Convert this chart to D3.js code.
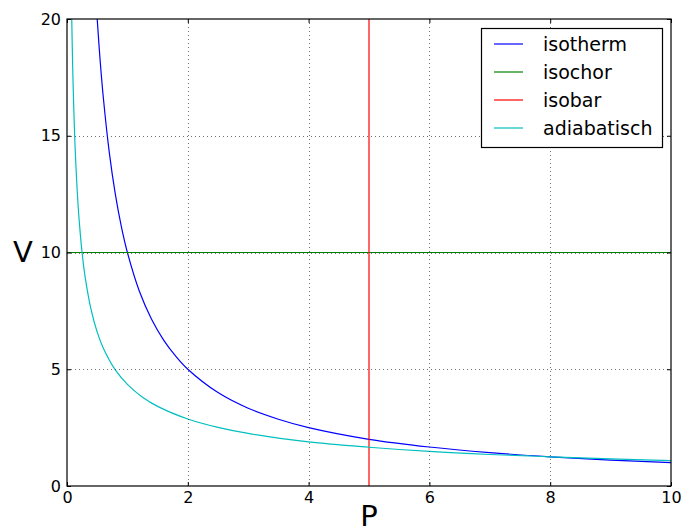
<!DOCTYPE html>
<html>
<head>
<meta charset="utf-8">
<script src="https://cdn.jsdelivr.net/npm/d3@7"></script>
<style>
body { margin: 0; background: #fff; }
text { font-family: "DejaVu Sans", sans-serif; }
</style>
</head>
<body>
<script>
//// Data ////
const isothermP = [0.48, 0.5, 0.55, 0.6, 0.7, 0.8, 0.9, 1, 1.2, 1.4, 1.6, 1.8, 2, 2.5, 3, 3.5, 4, 5, 6, 7, 8, 9, 10]
const isothermV = [20.83, 20, 18.18, 16.67, 14.29, 12.5, 11.11, 10, 8.33, 7.14, 6.25, 5.56, 5, 4, 3.33, 2.86, 2.5, 2, 1.67, 1.43, 1.25, 1.11, 1]

const adiabatP = [0.075, 0.08, 0.09, 0.1, 0.12, 0.14, 0.17, 0.2, 0.25, 0.3, 0.4, 0.5, 0.6, 0.8, 1, 1.25, 1.5, 2, 2.5, 3, 4, 5, 6, 7, 8, 9, 10]
const adiabatV = [20.58, 19.8, 18.45, 17.32, 15.52, 14.15, 12.6, 11.43, 9.99, 8.96, 7.54, 6.59, 5.91, 4.97, 4.35, 3.8, 3.41, 2.87, 2.51, 2.25, 1.89, 1.66, 1.48, 1.35, 1.25, 1.16, 1.09]

const isochorP = [0, 10]
const isochorV = [10, 10]

const isobarP = [5, 5]
const isobarV = [0, 20]

const seriesNames = ["isotherm", "isochor", "isobar", "adiabatisch"]
const seriesColors = ["#0000ff", "#008000", "#ff0000", "#00bfbf"]

const xTicks = [0, 2, 4, 6, 8, 10]
const yTicks = [0, 5, 10, 15, 20]

//// Layout ////
const WIDTH = 681
const HEIGHT = 529
const mLeft = 67, mRight = 671, mTop = 19, mBottom = 486

const x = d3.scaleLinear().domain([0, 10]).range([mLeft, mRight])
const y = d3.scaleLinear().domain([0, 20]).range([mBottom, mTop])

const svg = d3.select("body").append("svg")
    .attr("width", WIDTH)
    .attr("height", HEIGHT)

svg.append("defs").append("clipPath").attr("id", "clip")
    .append("rect")
    .attr("x", mLeft).attr("y", mTop)
    .attr("width", mRight - mLeft).attr("height", mBottom - mTop)

const zip = (ps, vs) => ps.map((p, i) => [p, vs[i]])
const series = [
    zip(isothermP, isothermV),
    zip(isochorP, isochorV),
    zip(isobarP, isobarV),
    zip(adiabatP, adiabatV)
]

const line = d3.line()
    .x(d => x(d[0]))
    .y(d => y(d[1]))
    .curve(d3.curveCatmullRom.alpha(0.5))

const plot = svg.append("g").attr("clip-path", "url(#clip)")

series.forEach((s, i) => {
    plot.append("path")
        .datum(s)
        .attr("d", line)
        .attr("fill", "none")
        .attr("stroke", seriesColors[i])
        .attr("stroke-width", 1.2)
})

// grid
const grid = svg.append("g")
grid.selectAll(".gx").data(xTicks.slice(1, -1)).join("line")
    .attr("class", "gx")
    .attr("x1", d => Math.round(x(d)) + 0.5).attr("x2", d => Math.round(x(d)) + 0.5)
    .attr("y1", mTop).attr("y2", mBottom)
grid.selectAll(".gy").data(yTicks.slice(1, -1)).join("line")
    .attr("class", "gy")
    .attr("y1", d => Math.round(y(d)) + 0.5).attr("y2", d => Math.round(y(d)) + 0.5)
    .attr("x1", mLeft).attr("x2", mRight)
grid.selectAll("line")
    .attr("stroke", "#333")
    .attr("stroke-width", 0.7)
    .attr("stroke-dasharray", "1,3")

// axes (ticks inward on all sides)
const axB = d3.axisBottom(x).tickValues(xTicks).tickSizeInner(-4).tickSizeOuter(0).tickPadding(6)
const axT = d3.axisTop(x).tickValues(xTicks).tickSizeInner(-4).tickSizeOuter(0).tickFormat("")
const axL = d3.axisLeft(y).tickValues(yTicks).tickSizeInner(-4).tickSizeOuter(0).tickPadding(6)
const axR = d3.axisRight(y).tickValues(yTicks).tickSizeInner(-4).tickSizeOuter(0).tickFormat("")

const styleAxis = g => {
    g.select(".domain").remove()
    g.selectAll("line").attr("stroke", "#000")
    g.selectAll("text").attr("font-size", 16).attr("fill", "#000")
        .attr("font-family", "DejaVu Sans, sans-serif")
}

svg.append("g").attr("transform", `translate(0,${mBottom})`).call(axB).call(styleAxis)
svg.append("g").attr("transform", `translate(0,${mTop})`).call(axT).call(styleAxis)
svg.append("g").attr("transform", `translate(${mLeft},0)`).call(axL).call(styleAxis)
svg.append("g").attr("transform", `translate(${mRight},0)`).call(axR).call(styleAxis)

// frame
svg.append("rect")
    .attr("x", mLeft).attr("y", mTop)
    .attr("width", mRight - mLeft).attr("height", mBottom - mTop)
    .attr("fill", "none")
    .attr("stroke", "#000")
    .attr("stroke-width", 1.2)

// axis labels
svg.append("text")
    .attr("x", (mLeft + mRight) / 2).attr("y", 526)
    .attr("text-anchor", "middle")
    .attr("font-size", 29)
    .text("P")
svg.append("text")
    .attr("x", 23).attr("y", 262)
    .attr("text-anchor", "middle")
    .attr("font-size", 29)
    .text("V")

// legend
const legend = svg.append("g")
legend.append("rect")
    .attr("x", 481.5).attr("y", 28.5)
    .attr("width", 181).attr("height", 119)
    .attr("fill", "#fff")
    .attr("stroke", "#000")
    .attr("stroke-width", 1.2)

seriesNames.forEach((name, i) => {
    const yy = 44 + i * 28
    legend.append("line")
        .attr("x1", 494).attr("x2", 523)
        .attr("y1", yy).attr("y2", yy)
        .attr("stroke", seriesColors[i])
        .attr("stroke-width", 1.2)
    legend.append("text")
        .attr("x", 543).attr("y", yy + 7)
        .attr("font-size", 19)
        .text(name)
})
</script>
</body>
</html>
